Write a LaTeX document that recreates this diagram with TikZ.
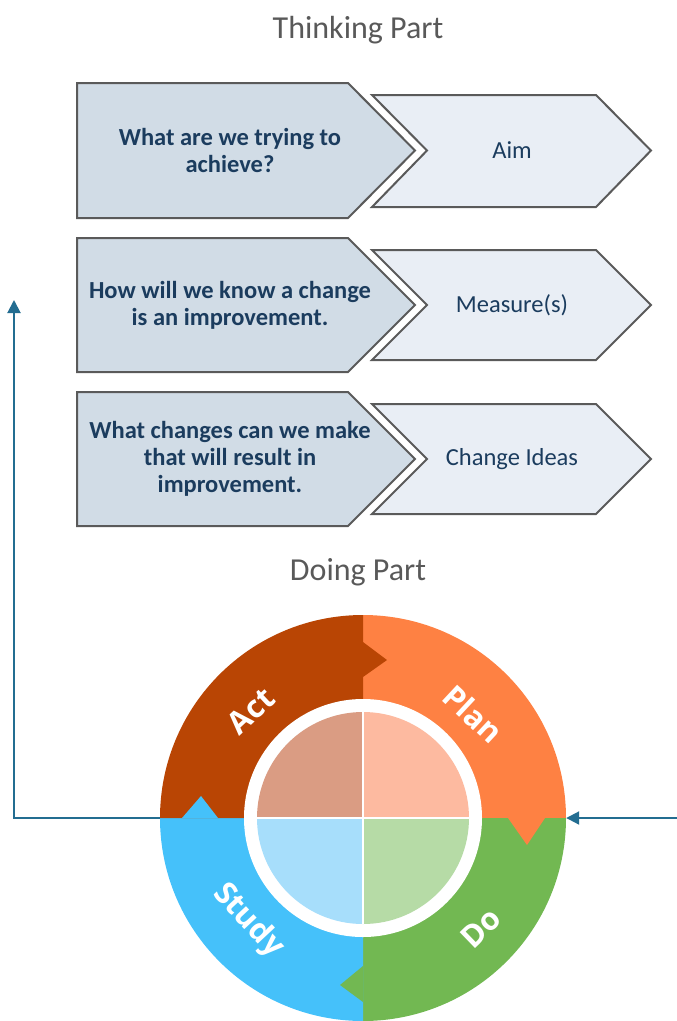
\documentclass[tikz,border=0pt]{standalone}
\usepackage{fontspec}
\setmainfont{Carlito}
\newfontfamily\ringfont{Open Sans}[BoldFont={Open Sans Bold}]
\usetikzlibrary{arrows.meta}
\definecolor{navy}{HTML}{1B3C5E}
\definecolor{titlegray}{HTML}{595959}
\definecolor{edgegray}{HTML}{5A5A5A}
\definecolor{darkfill}{HTML}{D1DCE6}
\definecolor{lightfill}{HTML}{E9EEF5}
\definecolor{actc}{HTML}{B94504}
\definecolor{planc}{HTML}{FE8143}
\definecolor{doc}{HTML}{72B852}
\definecolor{studyc}{HTML}{45C1FA}
\definecolor{actl}{HTML}{DA9C83}
\definecolor{planl}{HTML}{FDBAA0}
\definecolor{dol}{HTML}{B6DBA6}
\definecolor{studyl}{HTML}{A7DEFB}
\definecolor{arrowc}{HTML}{236D91}
\tikzset{
  darkchev/.style={draw=edgegray, line width=2pt, fill=darkfill, line join=miter},
  lightchev/.style={draw=edgegray, line width=2pt, fill=lightfill, line join=miter},
  qtext/.style={font=\fontsize{24.5}{27}\selectfont\bfseries, text=navy, align=center},
  atext/.style={font=\fontsize{24.5}{27}\selectfont, text=navy, align=center},
  titletext/.style={font=\fontsize{32}{36}\selectfont, text=titlegray},
  ringtext/.style={font=\ringfont\bfseries\fontsize{31}{34}\selectfont, text=white, inner sep=0pt},
  flowarrow/.style={draw=arrowc, line width=2pt, -{Triangle[length=13pt,width=13pt]}}
}
\begin{document}
\begin{tikzpicture}[x=1pt,y=-1pt]
\useasboundingbox (0,0) rectangle (677,1021);

% titles
\node[titletext] (thinking) at (358,30) {Thinking Part};
\node[titletext] (doing) at (358,572) {Doing Part};

% row 1
\path[darkchev] (77,83) -- (348,83) -- (415,150.5) -- (348,218) -- (77,218) -- cycle;
\path[lightchev] (372,95) -- (596,95) -- (651,150.5) -- (596,207) -- (372,207) -- (427,150.5) -- cycle;
\node[qtext] (q1) at (230,150.5) {What are we trying to\\achieve?};
\node[atext] (a1) at (512,150.5) {Aim};

% row 2
\path[darkchev] (77,238) -- (348,238) -- (415,305) -- (348,372) -- (77,372) -- cycle;
\path[lightchev] (372,250) -- (596,250) -- (651,305) -- (596,360) -- (372,360) -- (427,305) -- cycle;
\node[qtext] (q2) at (230,305) {How will we know a change\\is an improvement.};
\node[atext] (a2) at (512,305) {Measure(s)};

% row 3
\path[darkchev] (77,392) -- (348,392) -- (415,459) -- (348,526) -- (77,526) -- cycle;
\path[lightchev] (372,404) -- (596,404) -- (651,459) -- (596,514) -- (372,514) -- (427,459) -- cycle;
\node[qtext] (q3) at (230,459) {What changes can we make\\that will result in\\improvement.};
\node[atext] (a3) at (512,459) {Change Ideas};

% cycle frame node
\node[circle, minimum size=406pt, inner sep=0pt] (cyc) at (363,818) {};
\coordinate (upend) at (14,300);
\coordinate (rightstart) at (677,818);

% arrows
\draw[flowarrow] (cyc.west) -| (upend);
\draw[flowarrow] (rightstart) -- (cyc.east);

% quadrants
\fill[planc] (363,818) -- ++(-90:203) arc[start angle=-90, end angle=0, radius=203] -- cycle;
\fill[doc] (363,818) -- ++(0:203) arc[start angle=0, end angle=90, radius=203] -- cycle;
\fill[studyc] (363,818) -- ++(90:203) arc[start angle=90, end angle=180, radius=203] -- cycle;
\fill[actc] (363,818) -- ++(180:203) arc[start angle=180, end angle=270, radius=203] -- cycle;

% notches
\fill[actc] (363,642) -- (387,660) -- (363,677) -- cycle;
\fill[planc] (508,818) -- (527,845) -- (545,818) -- cycle;
\fill[doc] (363,966) -- (340,985) -- (363,1002) -- cycle;
\fill[studyc] (182,818) -- (201,796) -- (218,818) -- cycle;

% white ring and inner disc
\fill[white] (363,818) circle[radius=119];
\fill[planl] (363,818) -- ++(-90:106) arc[start angle=-90, end angle=0, radius=106] -- cycle;
\fill[dol] (363,818) -- ++(0:106) arc[start angle=0, end angle=90, radius=106] -- cycle;
\fill[studyl] (363,818) -- ++(90:106) arc[start angle=90, end angle=180, radius=106] -- cycle;
\fill[actl] (363,818) -- ++(180:106) arc[start angle=180, end angle=270, radius=106] -- cycle;
\draw[white, line width=1.5pt] (363,712) -- (363,924) (257,818) -- (469,818);

% ring labels
\node[ringtext, rotate=43] (act) at (251,711) {Act};
\node[ringtext, rotate=-43] (plan) at (473,714) {Plan};
\node[ringtext, rotate=-47] (study) at (248,921) {Study};
\node[ringtext, rotate=44] (do) at (481,928) {Do};
\end{tikzpicture}
\end{document}
